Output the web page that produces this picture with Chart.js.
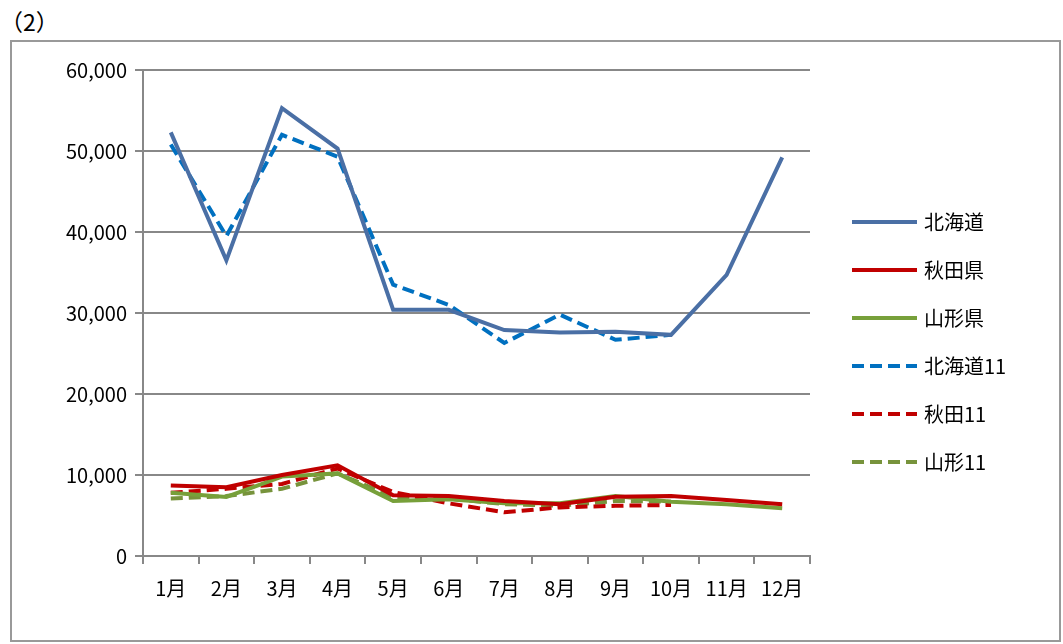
<!DOCTYPE html>
<html><head><meta charset="utf-8">
<script src="https://cdn.jsdelivr.net/npm/chart.js@4/dist/chart.umd.min.js"></script>
<style>
body{margin:0;background:#fff;font-family:"Noto Sans CJK JP",sans-serif;}
#title{position:absolute;left:0px;top:4px;font-size:23px;}
#frame{position:absolute;left:10px;top:40px;width:1051px;height:602px;border:2px solid #999;box-sizing:border-box;}
#wrap{position:absolute;left:12px;top:42px;width:1049px;height:600px;}
</style></head><body>
<div id="title">（2）</div>
<div id="frame"></div>
<div id="wrap"><canvas id="chart" width="1049" height="598"></canvas></div>
<script>
'use strict';
var months = ['1月','2月','3月','4月','5月','6月','7月','8月','9月','10月','11月','12月'];
var hokkaido = [52300,36500,55300,50300,30400,30400,27900,27600,27700,27300,34700,49200];
var akita = [8700,8500,10000,11200,7500,7400,6800,6400,7300,7400,6900,6400];
var yamagata = [7800,7300,9800,10200,6800,7000,6500,6500,7400,6700,6400,5900];
var hokkaido11 = [50800,39500,52000,49300,33500,31000,26300,29800,26700,27300,null,null];
var akita11 = [7800,8300,8900,10800,7900,6500,5400,6000,6200,6300,null,null];
var yamagata11 = [7100,7400,8300,10200,7300,7100,6400,6200,6800,6700,null,null];

var FONT = '"Noto Sans CJK JP"';

function ds(label, data, color, dashed) {
  return {label: label, data: data, borderColor: color, backgroundColor: color,
    borderWidth: 4, borderDash: dashed ? [12, 6] : [], pointRadius: 0, tension: 0, spanGaps: false};
}

// legend drawn by hand so the dashes show
var sideLegend = {
  id: 'sideLegend',
  afterDraw: function (chart) {
    var c = chart.ctx;
    c.save();
    c.font = '20px ' + FONT;
    c.textBaseline = 'middle';
    chart.data.datasets.forEach(function (d, i) {
      var y = 180 + i * 48;
      c.strokeStyle = d.borderColor;
      c.lineWidth = 4;
      c.setLineDash(d.borderDash);
      c.beginPath();
      c.moveTo(840, y);
      c.lineTo(905, y);
      c.stroke();
      c.fillStyle = '#000';
      c.fillText(d.label, 912, y);
    });
    c.restore();
  }
};

var ctx = document.getElementById('chart').getContext('2d');
new Chart(ctx, {
  type: 'line',
  data: {
    labels: months,
    datasets: [
      ds('北海道', hokkaido, '#4A6FA5', false),
      ds('秋田県', akita, '#C00000', false),
      ds('山形県', yamagata, '#77A03A', false),
      ds('北海道11', hokkaido11, '#0070C0', true),
      ds('秋田11', akita11, '#C00000', true),
      ds('山形11', yamagata11, '#77933C', true)
    ]
  },
  plugins: [sideLegend],
  options: {
    responsive: false, animation: false,
    layout: {padding: {left: 31, top: 28, right: 251, bottom: 34}},
    plugins: {legend: {display: false}},
    scales: {
      x: {offset: true, grid: {drawOnChartArea: false, color: '#888', lineWidth: 2, tickLength: 8, offset: true},
        border: {color: '#888', width: 2},
        afterFit: function (s) { s.height = 50; },
        ticks: {color: '#000', padding: 12, font: {size: 20, family: FONT}, maxRotation: 0, autoSkip: false}},
      y: {min: 0, max: 60000, grid: {color: '#888', lineWidth: 2, tickLength: 8}, border: {color: '#888', width: 2},
        afterFit: function (s) { s.width = 100; },
        ticks: {stepSize: 10000, color: '#000', padding: 8, font: {size: 20, family: FONT},
          callback: function (v) { return v.toLocaleString('en-US'); }}}
    }
  }
});
</script>
</body></html>
